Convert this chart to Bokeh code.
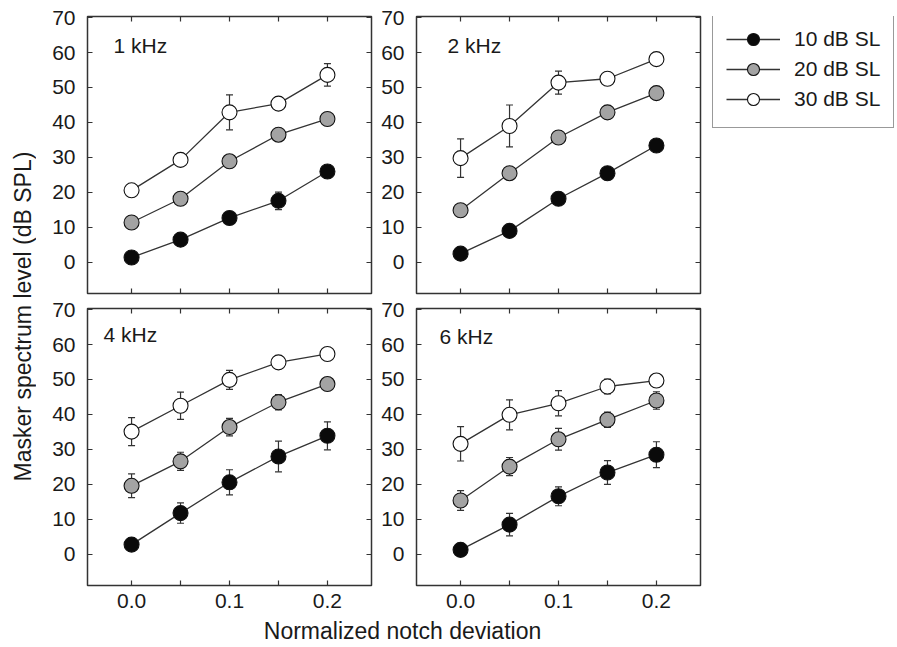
import math
from bokeh.plotting import figure
from bokeh.layouts import row, column
from bokeh.models import (ColumnDataSource, Whisker, TeeHead, LinearAxis, FixedTicker,
                          NumeralTickFormatter, Range1d, Label, Legend, LegendItem)
from bokeh.embed import file_html
from bokeh.resources import INLINE

# ---------------- data ----------------
notch = [0.0, 0.05, 0.1, 0.15, 0.2]
levels = ["10 dB SL", "20 dB SL", "30 dB SL"]
panel_names = ["1 kHz", "2 kHz", "4 kHz", "6 kHz"]

# 1 kHz
k1_m10 = [1.4, 6.5, 12.7, 17.6, 26.0]
k1_e10 = [1.0, 1.0, 1.2, 2.5, 1.0]
k1_m20 = [11.4, 18.2, 28.9, 36.5, 41.0]
k1_e20 = [1.0, 1.0, 1.2, 1.5, 1.0]
k1_m30 = [20.6, 29.3, 42.9, 45.4, 53.6]
k1_e30 = [1.0, 1.0, 5.0, 1.0, 3.2]
# 2 kHz
k2_m10 = [2.5, 9.0, 18.2, 25.5, 33.4]
k2_e10 = [1.0, 1.0, 1.0, 1.0, 1.0]
k2_m20 = [14.9, 25.5, 35.7, 42.9, 48.4]
k2_e20 = [1.0, 1.0, 1.0, 1.0, 1.0]
k2_m30 = [29.8, 39.0, 51.4, 52.5, 58.1]
k2_e30 = [5.5, 6.0, 3.3, 1.0, 1.0]
# 4 kHz
k4_m10 = [2.8, 11.8, 20.6, 28.0, 33.9]
k4_e10 = [1.5, 2.9, 3.6, 4.4, 4.0]
k4_m20 = [19.6, 26.6, 36.4, 43.5, 48.7]
k4_e20 = [3.4, 2.6, 2.5, 2.2, 1.0]
k4_m30 = [35.1, 42.5, 49.9, 54.9, 57.3]
k4_e30 = [4.0, 3.9, 2.7, 1.0, 1.0]
# 6 kHz
k6_m10 = [1.3, 8.5, 16.6, 23.4, 28.5]
k6_e10 = [1.0, 3.2, 2.7, 3.4, 3.7]
k6_m20 = [15.4, 25.1, 32.9, 38.5, 44.0]
k6_e20 = [2.8, 2.6, 3.1, 2.2, 2.5]
k6_m30 = [31.6, 39.9, 43.2, 48.0, 49.7]
k6_e30 = [4.9, 4.3, 3.6, 2.1, 1.0]

x_major = [0.0, 0.1, 0.2]
x_minor = [0.05, 0.15]
y_ticks = [0, 10, 20, 30, 40, 50, 60, 70]

panel_data = [
    [(k1_m10, k1_e10), (k1_m20, k1_e20), (k1_m30, k1_e30)],
    [(k2_m10, k2_e10), (k2_m20, k2_e20), (k2_m30, k2_e30)],
    [(k4_m10, k4_e10), (k4_m20, k4_e20), (k4_m30, k4_e30)],
    [(k6_m10, k6_e10), (k6_m20, k6_e20), (k6_m30, k6_e30)],
]

# ---------------- style ----------------
FONT = "Liberation Sans"
FS = "21px"
FS_TITLE = "23px"
INK = "#333333"
TXT = "#1a1a1a"
FILLS = ["#0a0a0a", "#a3a3a3", "#ffffff"]
FW, FH = 284, 277
XR = (-0.045, 0.245)
YR = (-8.9, 70.3)


def style_axis(ax, ticker, show_labels, standoff):
    ax.ticker = ticker
    ax.axis_line_color = None
    ax.major_tick_in = 5
    ax.major_tick_out = 0
    ax.minor_tick_in = 5
    ax.minor_tick_out = 0
    ax.major_tick_line_color = INK
    ax.minor_tick_line_color = INK
    ax.major_tick_line_width = 1.2
    ax.minor_tick_line_width = 1.2
    ax.major_label_text_font = FONT
    ax.major_label_text_font_size = FS
    ax.major_label_standoff = standoff
    ax.major_label_text_color = TXT if show_labels else None


def add_series(p, src, fill, visible=True):
    rl = p.line("x", "y", source=src, line_color=INK, line_width=1.3, visible=visible)
    rs = p.scatter("x", "y", source=src, size=15, fill_color=fill,
                   line_color="#111111", line_width=1.1, visible=visible)
    return rl, rs


def make_panel(idx, show_x, bl, br, bt, bb, lab_dx, lab_dy):
    p = figure(frame_width=FW, frame_height=FH, x_range=Range1d(*XR), y_range=Range1d(*YR),
               output_backend="svg", toolbar_location=None,
               min_border_left=bl, min_border_right=br, min_border_top=bt, min_border_bottom=bb)
    p.grid.visible = False
    p.outline_line_color = INK
    p.outline_line_width = 1.5
    p.background_fill_color = "white"
    p.border_fill_color = "white"

    style_axis(p.xaxis[0], FixedTicker(ticks=x_major, minor_ticks=x_minor), show_x, 8)
    p.xaxis[0].formatter = NumeralTickFormatter(format="0.0")
    if not show_x:
        p.xaxis[0].fixed_location = YR[0]
    style_axis(p.yaxis[0], FixedTicker(ticks=y_ticks, minor_ticks=[]), True, 12)
    top = LinearAxis(fixed_location=YR[1])
    style_axis(top, FixedTicker(ticks=x_major, minor_ticks=x_minor), False, 0)
    p.add_layout(top, "above")
    right = LinearAxis(fixed_location=XR[1])
    style_axis(right, FixedTicker(ticks=y_ticks, minor_ticks=[]), False, 0)
    p.add_layout(right, "right")

    for (m, e), fill in zip(panel_data[idx], FILLS):
        src = ColumnDataSource(dict(x=notch, y=m,
                                    upper=[a + b for a, b in zip(m, e)],
                                    lower=[a - b for a, b in zip(m, e)]))
        p.add_layout(Whisker(source=src, base="x", upper="upper", lower="lower",
                             line_color=INK, line_width=1.2,
                             upper_head=TeeHead(size=7, line_color=INK, line_width=1.2),
                             lower_head=TeeHead(size=7, line_color=INK, line_width=1.2)))
        add_series(p, src, fill)

    p.add_layout(Label(x=lab_dx, y=lab_dy, x_units="screen", y_units="screen",
                       text=panel_names[idx], text_font=FONT, text_font_size=FS,
                       text_color=TXT, text_baseline="middle", text_align="left"))
    return p


f1 = make_panel(0, False, 51, 2, 16, 4, 26, 248)
f2 = make_panel(1, False, 43, 4, 16, 4, 31, 248)
f3 = make_panel(2, True, 51, 2, 11, 30, 16, 251)
f4 = make_panel(3, True, 43, 4, 11, 30, 23, 249)

# legend panel (hidden proxy series drive the legend glyphs)
leg = figure(width=192, height=297, x_range=Range1d(*XR), y_range=Range1d(*YR),
             x_axis_type=None, y_axis_type=None, output_backend="svg", toolbar_location=None,
             min_border=0)
leg.grid.visible = False
leg.outline_line_color = None
items = []
for lab, (m, e), fill in zip(levels, panel_data[1], FILLS):
    src = ColumnDataSource(dict(x=notch, y=m))
    rl, rs = add_series(leg, src, fill, visible=False)
    items.append(LegendItem(label=lab, renderers=[rl, rs]))
legend = Legend(items=items, location=(8, 165), margin=0, padding=13, spacing=0,
                glyph_width=54, glyph_height=30, label_standoff=14,
                label_text_font=FONT, label_text_font_size=FS, label_text_color=TXT,
                border_line_color=INK, border_line_width=1.5,
                background_fill_color="white", background_fill_alpha=1.0,
                inactive_fill_alpha=0.0)
leg.add_layout(legend)

# y-axis title
ylab = figure(width=36, height=646, x_range=Range1d(0, 1), y_range=Range1d(0, 1),
              x_axis_type=None, y_axis_type=None, output_backend="svg", toolbar_location=None,
              min_border=0)
ylab.outline_line_color = None
ylab.add_layout(Label(x=22, y=330, x_units="screen", y_units="screen", angle=math.pi / 2,
                      text="Masker spectrum level (dB SPL)", text_font=FONT, text_font_size=FS_TITLE,
                      text_color=TXT, text_align="center", text_baseline="middle"))

# x-axis title
xlab = figure(width=853, height=31, x_range=Range1d(0, 1), y_range=Range1d(0, 1),
              x_axis_type=None, y_axis_type=None, output_backend="svg", toolbar_location=None,
              min_border=0)
xlab.outline_line_color = None
xlab.add_layout(Label(x=366, y=16, x_units="screen", y_units="screen",
                      text="Normalized notch deviation", text_font=FONT, text_font_size=FS_TITLE,
                      text_color=TXT, text_align="center", text_baseline="middle"))

layout = row(ylab, column(row(f1, f2, leg), row(f3, f4), xlab))

open("out.html", "w").write(file_html(layout, INLINE))
